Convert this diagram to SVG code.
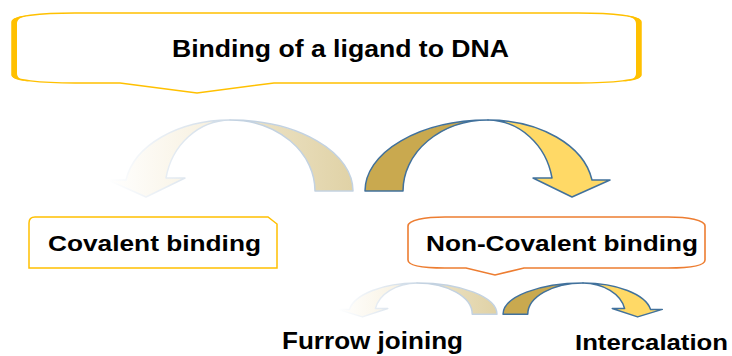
<svg xmlns="http://www.w3.org/2000/svg" xmlns:xlink="http://www.w3.org/1999/xlink" width="732" height="356" viewBox="0 0 732 356">
<style>
  .lbl { font-family: "Liberation Sans", Arial, sans-serif; font-weight: bold; fill: #000; }
  .solidBack { fill: #C9A94F; stroke: #41719C; stroke-width: 1.5; stroke-linejoin: round; }
  .solidFront { fill: #FFD966; stroke: #41719C; stroke-width: 1.5; stroke-linejoin: round; }
  .fadeBack { fill: url(#gFadeBack); stroke: #C3D2E1; stroke-width: 1.5; stroke-linejoin: round; }
  .fadeFront { fill: url(#gFadeFront); stroke: url(#gFadeStroke); stroke-width: 1.5; stroke-linejoin: round; }
  .yellowBox { fill: #FFFFFF; stroke: #FFC000; stroke-width: 1.5; }
  .orangeBox { fill: #FFFFFF; stroke: #ED7D31; stroke-width: 1.6; }
</style>
<defs>
  <path id="arcBack" vector-effect="non-scaling-stroke" d="M-123,71 A123,71 0 0 1 0,0 A85,71 0 0 0 -85,71 Z"/>
  <path id="arcFront" vector-effect="non-scaling-stroke" d="M0,0 A105,71 0 0 1 104,60 L122,60 L84,77 L45,58 L64,58 A66,71 0 0 0 0,0 Z"/>
  <linearGradient id="gFadeBack" x1="0" y1="0" x2="1" y2="0">
    <stop offset="0" stop-color="#E0D2A6"/>
    <stop offset="1" stop-color="#EFE6CC"/>
  </linearGradient>
  <linearGradient id="gFadeFront" x1="0" y1="0" x2="1" y2="0">
    <stop offset="0" stop-color="#F6EEDA"/>
    <stop offset="1" stop-color="#FFFFFF"/>
  </linearGradient>
  <linearGradient id="gFadeStroke" x1="0" y1="0" x2="1" y2="0">
    <stop offset="0" stop-color="#CCD9E6"/>
    <stop offset="1" stop-color="#FFFFFF"/>
  </linearGradient>
</defs>

<g id="connectors">
  <g id="arrow-big-left" transform="translate(230,120) scale(-1,1)">
    <use href="#arcBack" class="fadeBack"/>
    <use href="#arcFront" class="fadeFront"/>
  </g>
  <g id="arrow-big-right" transform="translate(488,120)">
    <use href="#arcBack" class="solidBack"/>
    <use href="#arcFront" class="solidFront"/>
  </g>
  <g id="arrow-small-left" transform="translate(417,283) scale(-0.65,0.44)">
    <use href="#arcBack" class="fadeBack"/>
    <use href="#arcFront" class="fadeFront"/>
  </g>
  <g id="arrow-small-right" transform="translate(583,283) scale(0.65,0.44)">
    <use href="#arcBack" class="solidBack"/>
    <use href="#arcFront" class="solidFront"/>
  </g>
</g>

<g id="node-binding">
  <path class="yellowBox" d="M12,22 C12,16 40,13 75,13 L578,13 C613,13 641,16 641,22 L641,75 C641,80 613,83 578,83 L274,83 L197,93 L120,83 L75,83 C40,83 12,80 12,75 Z"/>
  <path fill="#FFC000" d="M12,22 C12,18 20,16 30,15 C19,17 17,20 17,24 L17,73 C17,77 19,80 30,81.5 C20,81 12,79 12,75 Z"/>
  <path fill="#FFC000" d="M641,22 C641,18 633,16 623,15 C634,17 636,20 636,24 L636,73 C636,77 634,80 623,81.5 C633,81 641,79 641,75 Z"/>
  <text class="lbl" x="172" y="57" font-size="23" textLength="337" lengthAdjust="spacingAndGlyphs">Binding of a ligand to DNA</text>
</g>

<g id="node-covalent">
  <path class="yellowBox" d="M29,223 Q29,217 35,217 L268,217 L277,224 L277,268 L29,268 Z"/>
  <text class="lbl" x="48" y="251" font-size="22" textLength="213" lengthAdjust="spacingAndGlyphs">Covalent binding</text>
</g>

<g id="node-noncovalent">
  <path class="orangeBox" d="M408,226 C408,220 425,217 445,217 L668,217 C688,217 705,220 705,226 L705,260 C705,266 688,268 668,268 L524,268 L495,275 L466,268 L445,268 C425,268 408,266 408,260 Z"/>
  <text class="lbl" x="426" y="251" font-size="22" textLength="272" lengthAdjust="spacingAndGlyphs">Non-Covalent binding</text>
</g>

<g id="node-furrow">
  <text class="lbl" x="282" y="349" font-size="24" textLength="181" lengthAdjust="spacingAndGlyphs">Furrow joining</text>
</g>

<g id="node-intercalation">
  <text class="lbl" x="575" y="350" font-size="22" textLength="153" lengthAdjust="spacingAndGlyphs">Intercalation</text>
</g>
</svg>
